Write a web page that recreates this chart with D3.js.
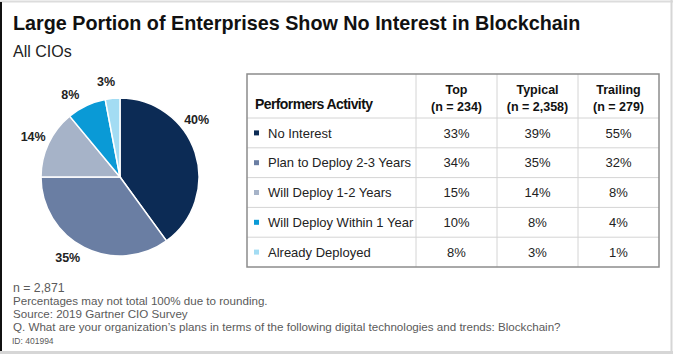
<!DOCTYPE html>
<html>
<head>
<meta charset="utf-8" />
<script src="https://d3js.org/d3.v7.min.js"></script>
<style>
  body { margin: 0; background: #fff; }
  svg { display: block; font-family: "Liberation Sans", Arial, sans-serif; }
</style>
</head>
<body>
<div id="visu"></div>
<script>
  // Dimensions
  const largeur = 673;
  const hauteur = 354;

  // Données
  const categories = ["No Interest", "Plan to Deploy 2-3 Years", "Will Deploy 1-2 Years", "Will Deploy Within 1 Year", "Already Deployed"];
  const tousCIOs = [40, 35, 14, 8, 3];
  const colonnes = ["Top", "Typical", "Trailing"];
  const effectifs = ["(n = 234)", "(n = 2,358)", "(n = 279)"];
  const topPerf = [33, 34, 15, 10, 8];
  const typicalPerf = [39, 35, 14, 8, 3];
  const trailingPerf = [55, 32, 8, 4, 1];
  const couleurs = ["#0c2b55", "#6a7ea3", "#a6b3c8", "#0a9ad6", "#a3dcf3"];

  const notes = [
    "n = 2,871",
    "Percentages may not total 100% due to rounding.",
    "Source: 2019 Gartner CIO Survey",
    "Q. What are your organization\u2019s plans in terms of the following digital technologies and trends: Blockchain?"
  ];

  const svg = d3.select('#visu').append('svg')
    .attr('width', largeur)
    .attr('height', hauteur);

  // Cadre
  svg.append('rect').attr('x', 0).attr('y', 0).attr('width', largeur).attr('height', hauteur).attr('fill', '#fff');
  svg.append('line').attr('x1', 0).attr('x2', largeur).attr('y1', 1.5).attr('y2', 1.5).attr('stroke', '#dcdcdc').attr('stroke-width', 2);
  svg.append('line').attr('x1', 0).attr('x2', largeur).attr('y1', 352.5).attr('y2', 352.5).attr('stroke', '#d6d6d6').attr('stroke-width', 3);
  svg.append('line').attr('x1', 671.5).attr('x2', 671.5).attr('y1', 0).attr('y2', hauteur).attr('stroke', '#d6d6d6').attr('stroke-width', 2);
  svg.append('line').attr('x1', 1).attr('x2', 1).attr('y1', 2).attr('y2', 351).attr('stroke', '#111').attr('stroke-width', 2);

  // Titre
  svg.append('text').attr('x', 13).attr('y', 30)
    .attr('font-size', 19.75).attr('font-weight', 'bold').attr('fill', '#111')
    .text("Large Portion of Enterprises Show No Interest in Blockchain");
  svg.append('text').attr('x', 13).attr('y', 57)
    .attr('font-size', 16).attr('fill', '#222')
    .text("All CIOs");

  // Camembert
  const centre = {x: 120, y: 177};
  const rayon = 79;
  const pie = d3.pie().sort(null).value(d => d)(tousCIOs);
  const arc = d3.arc().innerRadius(0).outerRadius(rayon);
  const gPie = svg.append('g').attr('transform', `translate(${centre.x},${centre.y})`);
  gPie.selectAll('path').data(pie).enter().append('path')
    .attr('d', arc)
    .attr('fill', (d, i) => couleurs[i])
    .attr('stroke', '#fff')
    .attr('stroke-width', 1.5);

  // étiquettes : petit décalage d'angle (en degrés) pour coller à l'original
  const decalageAngle = [-19, 6, 0, -6, -3];
  const rayonLabel = rayon + 17;
  gPie.selectAll('text').data(pie).enter().append('text')
    .attr('x', (d, i) => {
      const a = (d.startAngle + d.endAngle) / 2 + decalageAngle[i] * Math.PI / 180;
      return Math.sin(a) * rayonLabel;
    })
    .attr('y', (d, i) => {
      const a = (d.startAngle + d.endAngle) / 2 + decalageAngle[i] * Math.PI / 180;
      return -Math.cos(a) * rayonLabel;
    })
    .attr('dy', '0.35em')
    .attr('text-anchor', 'middle')
    .attr('font-size', 12.5).attr('font-weight', 'bold').attr('fill', '#222')
    .text(d => d.data + '%');

  // Tableau
  const tab = {gauche: 247, droite: 659, haut: 74, entete: 118, bas: 267};
  const bords = [247, 416, 497, 578, 659];
  const y = d3.scaleBand().domain(categories).range([tab.entete, tab.bas]);
  const gTab = svg.append('g');

  // lignes internes
  categories.forEach((c, i) => {
    gTab.append('line').attr('x1', tab.gauche).attr('x2', tab.droite)
      .attr('y1', y(c)).attr('y2', y(c)).attr('stroke', '#d4d4d4').attr('stroke-width', 1);
  });
  bords.slice(1, 4).forEach(x => {
    gTab.append('line').attr('x1', x).attr('x2', x)
      .attr('y1', tab.haut).attr('y2', tab.bas).attr('stroke', '#d4d4d4').attr('stroke-width', 1);
  });
  gTab.append('rect').attr('x', tab.gauche).attr('y', tab.haut)
    .attr('width', tab.droite - tab.gauche).attr('height', tab.bas - tab.haut)
    .attr('fill', 'none').attr('stroke', '#8c8c8c').attr('stroke-width', 1.5);

  // en-têtes
  gTab.append('text').attr('x', 255).attr('y', 109)
    .attr('font-size', 14).attr('font-weight', 'bold').attr('fill', '#111')
    .attr('textLength', 118).attr('lengthAdjust', 'spacing')
    .text("Performers Activity");
  colonnes.forEach((c, i) => {
    const cx = (bords[i + 1] + bords[i + 2]) / 2;
    gTab.append('text').attr('x', cx).attr('y', 94).attr('text-anchor', 'middle')
      .attr('font-size', 12.5).attr('font-weight', 'bold').attr('fill', '#111').text(c);
    gTab.append('text').attr('x', cx).attr('y', 111).attr('text-anchor', 'middle')
      .attr('font-size', 12.5).attr('font-weight', 'bold').attr('fill', '#111').text(effectifs[i]);
  });

  // lignes de données
  const valeurs = [topPerf, typicalPerf, trailingPerf];
  categories.forEach((c, i) => {
    const cy = y(c) + y.bandwidth() / 2;
    gTab.append('rect').attr('x', 254).attr('y', cy - 2.5).attr('width', 5).attr('height', 5)
      .attr('fill', couleurs[i]);
    gTab.append('text').attr('x', 268).attr('y', cy).attr('dy', '0.36em')
      .attr('font-size', 13).attr('fill', '#222').text(c);
    valeurs.forEach((v, j) => {
      const cx = (bords[j + 1] + bords[j + 2]) / 2;
      gTab.append('text').attr('x', cx).attr('y', cy).attr('dy', '0.36em')
        .attr('text-anchor', 'middle').attr('font-size', 13).attr('fill', '#222')
        .text(v[i] + '%');
    });
  });

  // Notes
  const baselines = [292, 305, 318, 331];
  const gNotes = svg.append('g');
  notes.forEach((n, i) => {
    gNotes.append('text').attr('x', 13).attr('y', baselines[i])
      .attr('font-size', i === 0 ? 12.3 : 11.6).attr('fill', '#5a5a5a').text(n);
  });
  gNotes.append('text').attr('x', 12).attr('y', 344)
    .attr('font-size', 8.5).attr('fill', '#5a5a5a').text("ID: 401994");
</script>
</body>
</html>
